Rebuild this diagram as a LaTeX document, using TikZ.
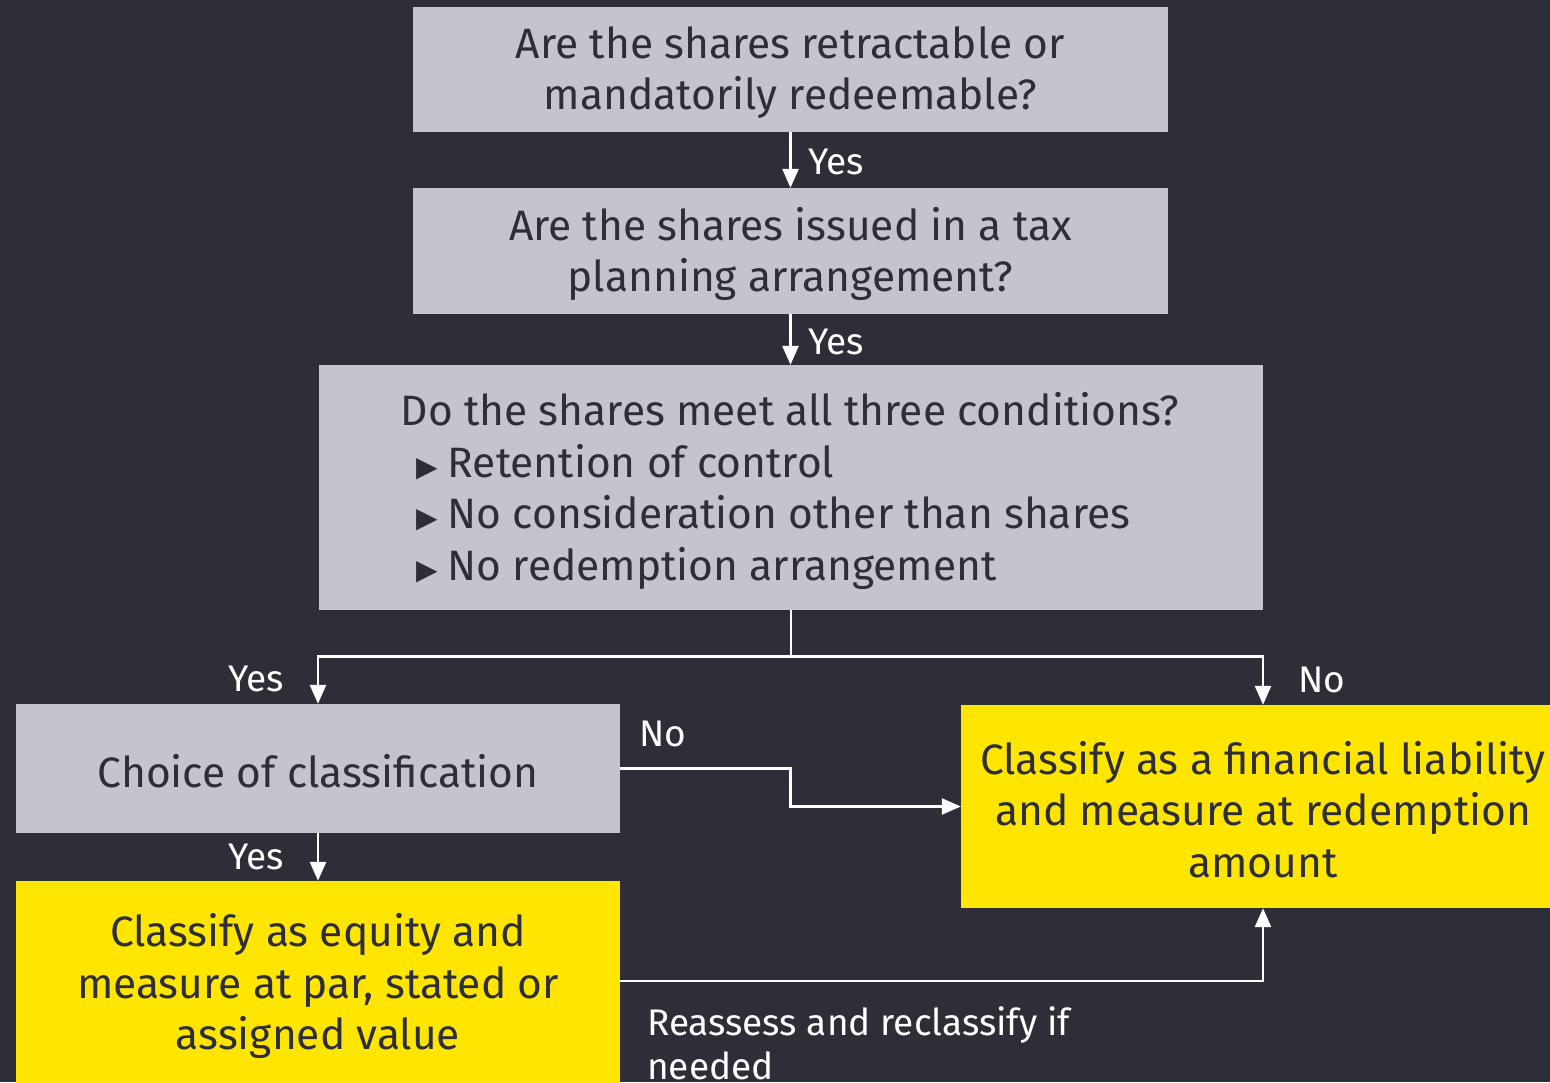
\documentclass[tikz,border=0pt]{standalone}
\usepackage{fontspec}
\setmainfont{Fira Sans}
\newfontfamily\symfont{DejaVu Sans}
\usetikzlibrary{arrows.meta,calc}
\definecolor{bg}{HTML}{2E2E38}
\definecolor{boxgray}{HTML}{C4C4CD}
\definecolor{eyyellow}{HTML}{FFE600}
\tikzset{
  box/.style={fill=boxgray, text=bg, inner sep=0pt, align=center, font=\fontsize{42.5}{51.5}\selectfont},
  ybox/.style={box, fill=eyyellow},
  txt/.style={text=bg, inner sep=0pt, font=\fontsize{42.5}{51.5}\selectfont},
  wire/.style={draw=white, line width=2.6pt},
  arr/.style={wire, -{Triangle[width=16pt,length=19pt]}},
  lbl/.style={text=white, inner sep=0pt, font=\fontsize{37}{44}\selectfont},
}
\newcommand{\bul}{{\symfont\fontsize{28}{28}\selectfont\raisebox{1pt}{▶}}\hspace{10pt}}
\begin{document}
\begin{tikzpicture}[x=1pt,y=-1pt]
\fill[bg] (0,0) rectangle (1550,1082);
\useasboundingbox (0,0) rectangle (1550,1082);
\begin{scope}
\clip (0,0) rectangle (1550,1082);
\node[box, minimum width=755pt, minimum height=125pt] (b1) at (790.5,69.5) {};
\node[box, fill=none] (t1) at (790.5,72.5) {Are the shares retractable or\\mandatorily redeemable?};
\node[box, minimum width=755pt, minimum height=126pt] (b2) at (790.5,251) {};
\node[box, fill=none] (t2) at (790.5,254) {Are the shares issued in a tax\\planning arrangement?};
\node[box, minimum width=944pt, minimum height=245pt] (b3) at (791,487.5) {};
\node[txt, anchor=base] (t3) at (790,425) {Do the shares meet all three conditions?};
\node[txt, anchor=base west] (t3a) at (416,477) {\bul Retention of control};
\node[txt, anchor=base west] (t3b) at (416,528.5) {\bul No consideration other than shares};
\node[txt, anchor=base west] (t3c) at (416,580) {\bul No redemption arrangement};
\node[box, minimum width=604pt, minimum height=129pt] (b4) at (318,768.5) {};
\node[txt] (t4) at (318,771) {Choice of classification};
\node[ybox, minimum width=604pt, minimum height=204pt] (b5) at (318,983) {};
\node[box, fill=none] (t5) at (318,986) {Classify as equity and\\measure at par, stated or\\assigned value};
\node[ybox, minimum width=604pt, minimum height=203pt] (b6) at (1263,806.5) {};
\node[box, fill=none] (t6) at (1263,809.5) {Classify as a financial liability\\and measure at redemption\\amount};
\end{scope}
% connectors
\draw[arr] (b1.south) -- (b2.north);
\draw[arr] (b2.south) -- (b2.south |- b3.north);
\draw[wire] (b3.south) -- ++(0,46) coordinate (j);
\draw[arr] (j) -| (b4.north);
\draw[arr] (j) -| (b6.north);
\draw[arr] (b4.east) -- ++(170,0) |- (b6.west);
\draw[arr] (b4.south) -- (b5.north);
\draw[arr] (b5.east |- 0,981) -| (b6.south);
% labels
\node[lbl, anchor=west] (l1) at (808,162) {Yes};
\node[lbl, anchor=west] (l2) at (808,342) {Yes};
\node[lbl] (l3) at (256,679) {Yes};
\node[lbl] (l4) at (1322,680) {No};
\node[lbl] (l5) at (663,734) {No};
\node[lbl] (l6) at (256,857) {Yes};
\node[lbl, anchor=north west, align=left, font=\fontsize{37}{44}\selectfont] (l7) at (647,1006) {Reassess and reclassify if\\needed};
\end{tikzpicture}
\end{document}
